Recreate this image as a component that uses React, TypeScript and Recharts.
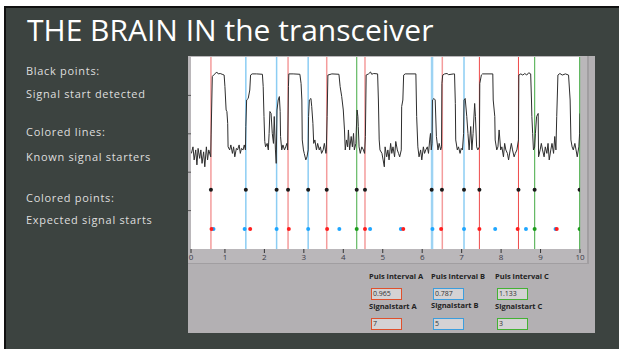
import { CartesianGrid, ComposedChart, Line, ReferenceLine, Scatter, XAxis, YAxis } from "recharts";

// received signal, [time, level]
const signal: [number, number][] = [
  [0.15, 2.49], [0.19, 2.66], [0.22, 2.32], [0.26, 2.58], [0.29, 2.19], [0.32, 2.62], [0.36, 2.36], [0.39, 2.58],
  [0.42, 2.23], [0.46, 2.53], [0.49, 2.14], [0.53, 2.66], [0.56, 2.32], [0.59, 2.58], [0.64, 2.4],
  [0.65, 2.97], [0.68, 4.49], [0.71, 4.53], [0.76, 4.57], [0.79, 4.61], [0.83, 4.56], [0.88, 4.57], [0.93, 4.55], [0.98, 4.53],
  [1.0, 4.23], [1.03, 3.62], [1.05, 3.58], [1.07, 3.27], [1.08, 2.66],
  [1.12, 2.58], [1.15, 2.71], [1.19, 2.49], [1.22, 2.66], [1.25, 2.4], [1.29, 2.62], [1.32, 2.58], [1.36, 2.71],
  [1.39, 2.49], [1.42, 2.62], [1.46, 2.58], [1.49, 2.71], [1.52, 2.58],
  [1.53, 3.19], [1.55, 3.88], [1.59, 3.92], [1.63, 4.14], [1.65, 4.53], [1.69, 4.56], [1.8, 4.56], [1.95, 4.55],
  [1.97, 4.23], [1.99, 3.45], [2.01, 2.8],
  [2.03, 2.66], [2.07, 2.75], [2.1, 2.58], [2.12, 3.01], [2.14, 3.58], [2.17, 3.53], [2.2, 3.01], [2.23, 2.75],
  [2.25, 3.45], [2.28, 2.58], [2.3, 2.23], [2.32, 3.62], [2.35, 3.88], [2.38, 3.97], [2.4, 3.58], [2.41, 2.93],
  [2.44, 2.58], [2.47, 2.71], [2.51, 2.58], [2.54, 2.66], [2.57, 2.75], [2.59, 2.58],
  [2.61, 4.23], [2.62, 4.56], [2.73, 4.56], [2.9, 4.55],
  [2.93, 4.31], [2.95, 3.88], [2.96, 2.84], [2.99, 2.58], [3.01, 2.49], [3.05, 2.32], [3.08, 2.4], [3.11, 2.58],
  [3.12, 3.45], [3.14, 3.88], [3.18, 3.92], [3.2, 3.71], [3.23, 3.27], [3.25, 2.75], [3.28, 2.84], [3.32, 2.58],
  [3.35, 2.75], [3.39, 2.58], [3.42, 2.66], [3.45, 2.49], [3.49, 2.58], [3.52, 2.75], [3.56, 2.49], [3.57, 2.58],
  [3.59, 3.45], [3.61, 4.53], [3.71, 4.56], [3.89, 4.55],
  [3.92, 4.23], [3.96, 3.97], [4.0, 3.62], [4.03, 3.1], [4.05, 2.58],
  [4.08, 2.84], [4.11, 2.66], [4.13, 3.1], [4.16, 2.58], [4.2, 2.93], [4.23, 2.66], [4.26, 3.01], [4.28, 2.58],
  [4.32, 2.75], [4.33, 3.1], [4.35, 3.62], [4.37, 3.45], [4.38, 3.19], [4.4, 2.66], [4.43, 2.49], [4.47, 2.66],
  [4.51, 2.58], [4.54, 2.49],
  [4.56, 2.93], [4.58, 4.53], [4.64, 4.56], [4.69, 4.61], [4.72, 4.55], [4.77, 4.57], [4.87, 4.56],
  [4.89, 3.88], [4.91, 2.84], [4.93, 2.58],
  [4.98, 2.49], [5.01, 2.32], [5.04, 2.14], [5.06, 2.66], [5.1, 2.4], [5.13, 2.58], [5.16, 2.32], [5.2, 2.75],
  [5.23, 2.49], [5.26, 2.66], [5.3, 2.4], [5.33, 2.8], [5.37, 2.58], [5.4, 2.49], [5.43, 2.4], [5.47, 2.58],
  [5.48, 3.71], [5.51, 3.88], [5.53, 4.53], [5.57, 4.56], [5.84, 4.56],
  [5.86, 3.45], [5.89, 2.66],
  [5.92, 2.4], [5.96, 2.58], [5.99, 2.32], [6.03, 2.66], [6.06, 2.49], [6.09, 2.58], [6.13, 2.66], [6.16, 2.49],
  [6.19, 2.84], [6.21, 3.01], [6.23, 2.58], [6.25, 2.75],
  [6.26, 3.88], [6.3, 3.92], [6.33, 3.88], [6.36, 2.93], [6.4, 2.58], [6.43, 2.75], [6.47, 2.58], [6.49, 2.66],
  [6.5, 4.31], [6.52, 4.53], [6.57, 4.56], [6.63, 4.57], [6.67, 4.54], [6.8, 4.56], [6.82, 4.56],
  [6.84, 3.79], [6.85, 2.84], [6.89, 2.58], [6.92, 2.66], [6.96, 2.49], [6.99, 2.62], [7.02, 2.58], [7.05, 3.01],
  [7.06, 3.88], [7.09, 3.92], [7.13, 3.45], [7.16, 3.01], [7.19, 2.58], [7.23, 3.19], [7.26, 2.58], [7.29, 3.01],
  [7.33, 3.79], [7.35, 3.45], [7.38, 2.66], [7.41, 2.58], [7.45, 2.66],
  [7.46, 4.31], [7.5, 4.53], [7.53, 4.56], [7.79, 4.56],
  [7.8, 3.88], [7.84, 3.45], [7.85, 2.84], [7.89, 2.58], [7.92, 2.66], [7.95, 3.1], [7.99, 2.58], [8.02, 2.66],
  [8.06, 2.4], [8.09, 2.75], [8.12, 2.58], [8.16, 2.49], [8.19, 2.32], [8.23, 2.58], [8.26, 2.75], [8.29, 2.58],
  [8.33, 2.4], [8.36, 2.49], [8.4, 2.58], [8.44, 2.84],
  [8.45, 4.53], [8.5, 4.56], [8.55, 4.53], [8.6, 4.57], [8.65, 4.53], [8.7, 4.59], [8.75, 4.56],
  [8.77, 3.88], [8.78, 3.45], [8.8, 3.01], [8.82, 2.58], [8.85, 2.66], [8.87, 3.01], [8.9, 3.45], [8.94, 3.53],
  [8.95, 2.4], [8.99, 2.58], [9.02, 2.75], [9.05, 2.58], [9.09, 2.4], [9.12, 2.66], [9.16, 2.49], [9.19, 2.75],
  [9.22, 2.32], [9.26, 2.58], [9.29, 2.75], [9.33, 2.49], [9.36, 2.93], [9.39, 2.58], [9.41, 3.45],
  [9.43, 4.14], [9.44, 4.53], [9.49, 4.57], [9.55, 4.53], [9.63, 4.56], [9.71, 4.53],
  [9.75, 3.88], [9.77, 2.84], [9.8, 2.66], [9.83, 2.58], [9.87, 2.75], [9.9, 2.58], [9.93, 2.4], [9.97, 2.66],
  [9.99, 3.01], [10.0, 3.53],
];

// black points: detected signal starts
const detectedStarts = [0.645, 1.53, 2.31, 2.6, 3.11, 3.58, 4.34, 4.55, 6.24, 6.5, 7.06, 7.45, 8.44, 8.85, 9.99];
const detectedLevel = 1.54;

// colored lines: known signal starters
const knownRed = [0.645, 2.6, 3.58, 4.55, 6.51];
const knownRedStrong = [7.45, 8.44];
const knownBlue = [1.53, 2.31, 3.11, 7.06];
const knownBlueWide = [6.25];
const knownGreen = [4.34, 8.85, 9.99];

// colored points: expected signal starts
const expectedBlue = [0.71, 1.5, 2.31, 3.11, 3.9, 4.68, 5.46, 6.26, 7.06, 7.85, 8.63, 9.38];
const expectedRed = [0.66, 1.64, 2.62, 3.59, 4.55, 5.52, 6.48, 7.45, 8.42, 9.41];
const expectedGreen = [4.34, 8.85, 9.99];
const expectedLevel = 0.52;

const xTicks = [0.14, 1, 2, 3, 4, 5, 6, 7, 8, 9, 10];
const yTicks = [1, 2, 3, 4];

const notes = [
  "Black points:",
  "Signal start detected",
  "Colored lines:",
  "Known signal starters",
  "Colored points:",
  "Expected signal starts",
];
const noteTops = [65, 87.5, 126, 151, 192, 213.5];

const fields = [
  { label: "Puls interval A", value: "0.965", color: "#e0502c" },
  { label: "Puls interval B", value: "0.787", color: "#3c9ede" },
  { label: "Puls interval C", value: "1.133", color: "#44b234" },
  { label: "Signalstart A", value: "7", color: "#e0502c" },
  { label: "Signalstart B", value: "5", color: "#3c9ede" },
  { label: "Signalstart C", value: "3", color: "#44b234" },
];
const fieldX = [371, 433, 497];

const signalData = signal.map(([x, y]) => ({ x, y }));
const pts = (xs: number[], y: number) => xs.map((x) => ({ x, y }));

const dot = (fill: string) => (p: any) => <circle cx={p.cx} cy={p.cy} r={2} fill={fill} />;

const font = '"Open Sans", sans-serif';

export default function App() {
  return (
    <div style={{ position: "absolute", left: 0, top: 0, width: 619, height: 349, background: "#fff", overflow: "hidden", fontFamily: font }}>
      <div
        style={{
          position: "absolute",
          left: 4,
          top: 6,
          width: 615,
          height: 343,
          boxSizing: "border-box",
          background: "#3c4340",
          borderTop: "2px solid #111",
          borderLeft: "2px solid #111",
        }}
      />
      <div style={{ position: "absolute", left: 27, top: 15, fontSize: 30, lineHeight: "30px", color: "#fff", whiteSpace: "nowrap" }}>
        THE BRAIN IN the transceiver
      </div>
      {notes.map((t, i) => (
        <div
          key={t}
          style={{ position: "absolute", left: 26, top: noteTops[i], fontSize: 11, lineHeight: "11px", letterSpacing: 0.7, color: "#dedede", whiteSpace: "nowrap" }}
        >
          {t}
        </div>
      ))}

      <div style={{ position: "absolute", left: 188, top: 56, width: 407, height: 277, background: "#b3b0b3" }} />
      <div
        style={{
          position: "absolute",
          left: 188,
          top: 56,
          width: 401,
          height: 208,
          boxSizing: "border-box",
          background: "#bab7ba",
          borderRight: "2px solid #a19ea1",
          borderBottom: "1px solid #a19ea1",
        }}
      />
      <div style={{ position: "absolute", left: 188, top: 56 }}>
        <ComposedChart width={402} height={208} margin={{ top: 1, right: 10, bottom: 0, left: 0 }}>
          <CartesianGrid horizontal={false} vertical={false} fill="#fff" stroke="none" />
          <XAxis
            type="number"
            dataKey="x"
            domain={[0.14, 10]}
            ticks={xTicks}
            interval={0}
            allowDataOverflow
            height={15}
            axisLine={false}
            tickSize={4}
            tickMargin={1}
            tickLine={{ stroke: "#333" }}
            tick={{ fontSize: 8, fill: "#3a3a48", fontFamily: font }}
            tickFormatter={(v: number) => String(Math.round(v))}
          />
          <YAxis
            type="number"
            domain={[0, 5]}
            ticks={yTicks}
            width={3}
            axisLine={false}
            tickSize={3}
            tickLine={{ stroke: "#555" }}
            tickFormatter={() => ""}
          />
          {knownRed.map((x) => (
            <ReferenceLine key={"r" + x} x={x} stroke="#f49c9c" strokeWidth={1.5} />
          ))}
          {knownRedStrong.map((x) => (
            <ReferenceLine key={"rs" + x} x={x} stroke="#ef4a4a" strokeWidth={1} />
          ))}
          {knownBlue.map((x) => (
            <ReferenceLine key={"b" + x} x={x} stroke="#8ccdf3" strokeWidth={1.5} />
          ))}
          {knownBlueWide.map((x) => (
            <ReferenceLine key={"bw" + x} x={x} stroke="#9dd3f3" strokeWidth={2.5} />
          ))}
          {knownGreen.map((x) => (
            <ReferenceLine key={"g" + x} x={x} stroke="#62b862" strokeWidth={1.2} />
          ))}
          <Line
            data={signalData}
            dataKey="y"
            type="linear"
            stroke="#2e2e2e"
            strokeWidth={1}
            dot={false}
            activeDot={false}
            isAnimationActive={false}
          />
          <Scatter data={pts(detectedStarts, detectedLevel)} dataKey="y" shape={dot("#1a1a1a")} isAnimationActive={false} />
          <Scatter data={pts(expectedBlue, expectedLevel)} dataKey="y" shape={dot("#1ea6ff")} isAnimationActive={false} />
          <Scatter data={pts(expectedRed, expectedLevel)} dataKey="y" shape={dot("#ff1e1e")} isAnimationActive={false} />
          <Scatter data={pts(expectedGreen, expectedLevel)} dataKey="y" shape={dot("#1d9d1d")} isAnimationActive={false} />
        </ComposedChart>
      </div>

      {fields.map((f, i) => {
        const col = i % 3;
        const row = Math.floor(i / 3);
        const x = fieldX[col];
        const labelTop = row === 0 ? 272.6 : col === 1 ? 301.7 : 303.4;
        const boxTop = row === 0 ? 288 : 318;
        return (
          <div key={f.label}>
            <div
              style={{
                position: "absolute",
                left: x - 2,
                top: labelTop,
                fontSize: 7.5,
                lineHeight: "7.5px",
                fontWeight: 700,
                color: "#222",
                whiteSpace: "nowrap",
              }}
            >
              {f.label}
            </div>
            <div
              style={{
                position: "absolute",
                left: x,
                top: boxTop,
                width: 31,
                height: 12,
                boxSizing: "border-box",
                border: `1px solid ${f.color}`,
                background: "#d4d2d4",
                fontSize: 7,
                lineHeight: "10px",
                color: "#333",
                paddingLeft: 1,
              }}
            >
              {f.value}
            </div>
          </div>
        );
      })}
    </div>
  );
}
